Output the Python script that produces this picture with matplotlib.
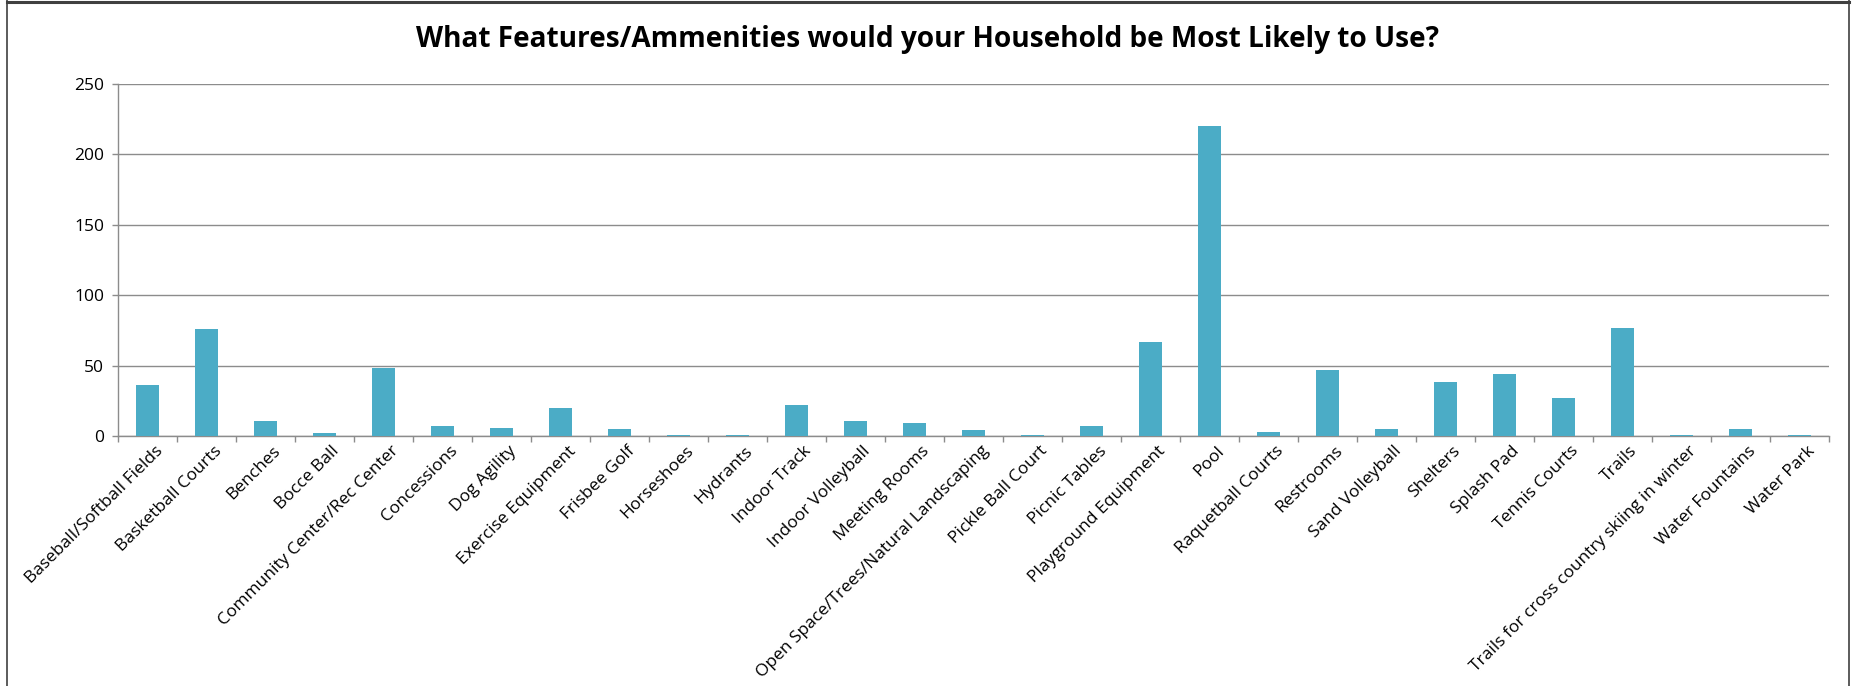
import matplotlib
matplotlib.use("Agg")
import matplotlib.pyplot as plt
from matplotlib.lines import Line2D
import numpy as np

categories = [
    "Baseball/Softball Fields", "Basketball Courts", "Benches", "Bocce Ball",
    "Community Center/Rec Center", "Concessions", "Dog Agility", "Exercise Equipment",
    "Frisbee Golf", "Horseshoes", "Hydrants", "Indoor Track", "Indoor Volleyball",
    "Meeting Rooms", "Open Space/Trees/Natural Landscaping", "Pickle Ball Court",
    "Picnic Tables", "Playground Equipment", "Pool", "Raquetball Courts", "Restrooms",
    "Sand Volleyball", "Shelters", "Splash Pad", "Tennis Courts", "Trails",
    "Trails for cross country skiing in winter", "Water Fountains", "Water Park",
]
values = [36, 76, 11, 2, 48, 7, 6, 20, 5, 1, 1, 22, 11, 9, 4, 1, 7, 67, 220, 3, 47,
          5, 38, 44, 27, 77, 1, 5, 1]
yticks = [0, 50, 100, 150, 200, 250]
title = "What Features/Ammenities would your Household be Most Likely to Use?"

plt.rcParams['font.family'] = ['Open Sans', 'DejaVu Sans']

W, H = 1855, 686
fig = plt.figure(figsize=(W / 100, H / 100), dpi=100)
ax = fig.add_axes([118 / W, 1 - 436 / H, (1829 - 118) / W, (436 - 84) / H])

n = len(categories)
x = np.arange(n)
ax.bar(x, values, width=0.4, color="#4BACC6", edgecolor="none", zorder=3)

ax.set_xlim(-0.5, n - 0.5)
ax.set_ylim(0, 250)
ax.set_yticks(yticks)
ax.set_yticklabels([str(v) for v in yticks], fontsize=12.5)
ax.yaxis.grid(True, color="#8c8c8c", linewidth=1.0, zorder=0)
ax.set_axisbelow(True)

ax.set_xticks(np.arange(n + 1) - 0.5)
ax.set_xticklabels([])
ax.set_xticks(x + 0.12, minor=True)
ax.set_xticklabels(categories, minor=True, rotation=45, ha="right", va="top",
                   rotation_mode="anchor", fontsize=12.5)
ax.tick_params(axis="x", which="minor", length=0, pad=5)
ax.tick_params(axis="x", which="major", length=4, color="#8c8c8c", width=1)
ax.tick_params(axis="y", length=4, color="#8c8c8c", width=1, pad=6)

for s in ["top", "right"]:
    ax.spines[s].set_visible(False)
for s in ["left", "bottom"]:
    ax.spines[s].set_color("#8c8c8c")
    ax.spines[s].set_linewidth(1.0)

fig.text(927 / W, 1 - 40 / H, title, ha="center", va="center", fontsize=20.2,
         fontweight="bold")

# outer chart frame
fig.add_artist(Line2D([7 / W, 1849 / W], [1 - 1.5 / H, 1 - 1.5 / H], color="#404040", linewidth=2.2))
fig.add_artist(Line2D([7 / W, 7 / W], [0, 1], color="#404040", linewidth=1.2))
fig.add_artist(Line2D([1849 / W, 1849 / W], [0, 1], color="#404040", linewidth=1.2))

fig.savefig("out.png", dpi=100)
